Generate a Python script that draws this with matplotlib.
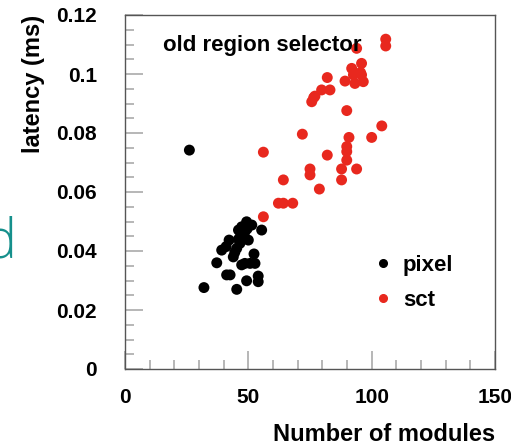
import matplotlib
matplotlib.use("Agg")
import matplotlib.pyplot as plt
from matplotlib.ticker import MultipleLocator
from matplotlib.lines import Line2D

pixel_x = [26.1, 32.0, 37.2, 39.2, 41.0, 42.2, 41.2, 42.6, 45.3, 49.3, 54.0, 54.0,
           52.3, 52.7, 48.6, 50.7, 47.3, 43.9, 46.0, 47.3, 49.3, 51.4, 55.4, 48.0,
           46.6, 45.3, 44.5, 50.0, 48.6, 47.0, 46.0, 49.5]
pixel_y = [0.0742, 0.0276, 0.0360, 0.0403, 0.0415, 0.0437, 0.0319, 0.0319, 0.0270,
           0.0299, 0.0315, 0.0296, 0.0390, 0.0358, 0.0358, 0.0358, 0.0353, 0.0380,
           0.0471, 0.0482, 0.0499, 0.0488, 0.0471, 0.0449, 0.0426, 0.0409, 0.0395,
           0.0437, 0.0465, 0.0455, 0.0440, 0.0475]

sct_x = [93.9, 105.7, 105.7, 95.9, 91.9, 92.6, 95.9, 96.6, 93.2, 89.2, 82.0, 83.1,
         79.7, 77.0, 75.7, 76.5, 89.9, 104.1, 100.0, 90.8, 89.9, 89.9, 89.9, 82.0,
         75.0, 75.0, 87.8, 93.9, 87.8, 78.8, 71.9, 56.1, 64.2, 62.2, 64.2, 68.0,
         56.1, 95.5]
sct_y = [0.1087, 0.1118, 0.1095, 0.1036, 0.1019, 0.0997, 0.0997, 0.0974, 0.0968,
         0.0976, 0.0988, 0.0946, 0.0946, 0.0925, 0.0906, 0.0920, 0.0876, 0.0824,
         0.0785, 0.0785, 0.0754, 0.0737, 0.0708, 0.0725, 0.0678, 0.0658, 0.0678,
         0.0678, 0.0641, 0.0610, 0.0796, 0.0735, 0.0641, 0.0562, 0.0562, 0.0562,
         0.0516, 0.1005]

x_ticks = [0, 50, 100, 150]
x_tick_labels = ["0", "50", "100", "150"]
y_ticks = [0, 0.02, 0.04, 0.06, 0.08, 0.1, 0.12]
y_tick_labels = ["0", "0.02", "0.04", "0.06", "0.08", "0.1", "0.12"]

RED = "#e8281e"
plt.rcParams['font.family'] = ['Liberation Sans', 'DejaVu Sans']
plt.rcParams['font.weight'] = 'bold'

W, H = 511, 446
fig = plt.figure(figsize=(W / 100, H / 100), dpi=100)
ax = fig.add_axes([125 / W, 1 - 369 / H, 370 / W, 354 / H])

ax.scatter(pixel_x, pixel_y, s=62, color="black", edgecolors="none", zorder=3)
ax.scatter(sct_x, sct_y, s=62, color=RED, edgecolors="none", zorder=3)

ax.set_xlim(0, 150)
ax.set_ylim(0, 0.12)
ax.set_xticks(x_ticks)
ax.set_xticklabels(x_tick_labels)
ax.set_yticks(y_ticks)
ax.set_yticklabels(y_tick_labels)
ax.xaxis.set_minor_locator(MultipleLocator(10))
ax.yaxis.set_minor_locator(MultipleLocator(0.005))
ax.tick_params(which='both', direction='in', colors='#aaaaaa', labelcolor='black',
               top=False, right=False, width=1.2)
ax.tick_params(which='major', length=13)
ax.tick_params(which='minor', length=6.5)
ax.tick_params(axis='y', which='major', pad=20, labelsize=15)
ax.tick_params(axis='x', which='major', pad=14, labelsize=15)
for sp in ax.spines.values():
    sp.set_color('#555555')
    sp.set_linewidth(1.0)

ax.set_xlabel("Number of modules", fontsize=17, fontweight='bold', loc='right', labelpad=11)
ax.set_ylabel("latency (ms)", fontsize=17, fontweight='bold', loc='top', labelpad=8)

fig.text(163 / W, 1 - 45 / H, "old region selector",
         fontsize=16, fontweight='bold', va='center', ha='left', zorder=2)

handles = [Line2D([], [], marker='o', linestyle='none', color='black', markersize=5.5),
           Line2D([], [], marker='o', linestyle='none', color=RED, markersize=5.5)]
fig.legend(handles, ["pixel", "sct"], loc='center left',
           bbox_to_anchor=(365 / W, 1 - 283 / H), frameon=False,
           prop={'size': 16, 'weight': 'bold'}, handlelength=0.8,
           handletextpad=0.5, labelspacing=0.65, borderaxespad=0)

fig.text(17 / W, 1 - 243 / H, "d", color="#16908c", fontsize=40, family=['Open Sans', 'DejaVu Sans'],
         fontweight='light', ha='right', va='center')

fig.savefig("out.png", dpi=100)
